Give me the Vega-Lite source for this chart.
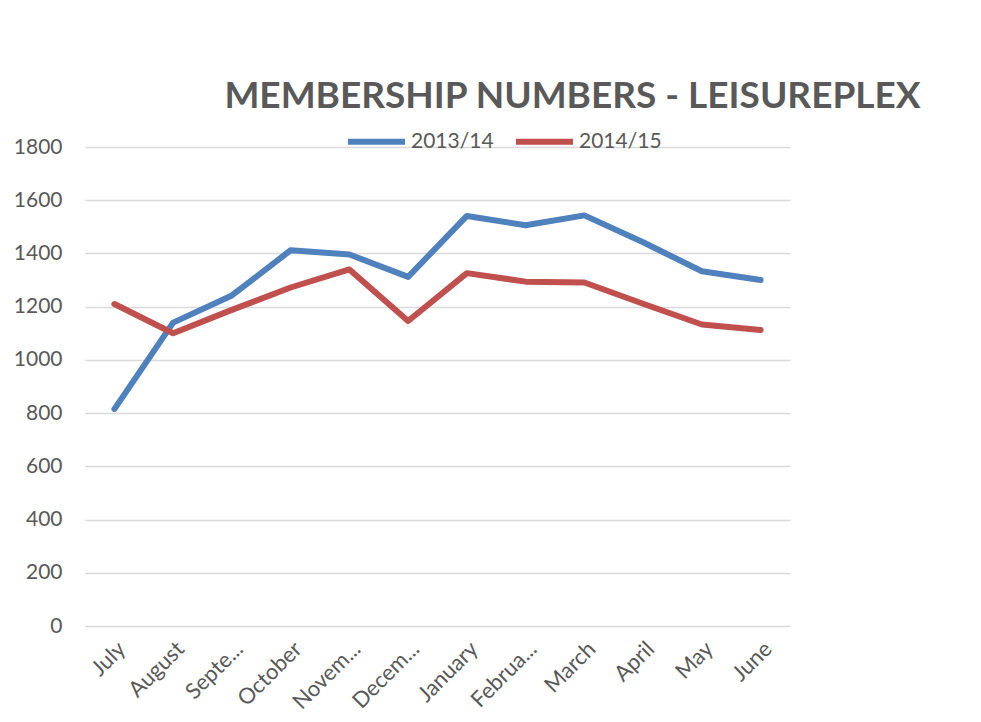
{
  "$schema": "https://vega.github.io/schema/vega-lite/v6.json",
  "autosize": {"type": "none"},
  "width": 705,
  "height": 479,
  "padding": {"left": 85, "top": 147, "right": 191, "bottom": 96},
  "background": "white",
  "title": {
    "text": "MEMBERSHIP NUMBERS - LEISUREPLEX",
    "font": "Lato",
    "fontSize": 37,
    "fontWeight": "bold",
    "color": "#595959",
    "anchor": "middle",
    "dx": 135,
    "dy": 18,
    "offset": 12
  },
  "config": {
    "view": {"stroke": null},
    "font": "Lato"
  },
  "data": {
    "values": [
      {"month": "July", "season": "2013/14", "members": 815},
      {"month": "August", "season": "2013/14", "members": 1140},
      {"month": "September", "season": "2013/14", "members": 1242},
      {"month": "October", "season": "2013/14", "members": 1412},
      {"month": "November", "season": "2013/14", "members": 1396},
      {"month": "December", "season": "2013/14", "members": 1312},
      {"month": "January", "season": "2013/14", "members": 1541},
      {"month": "February", "season": "2013/14", "members": 1506},
      {"month": "March", "season": "2013/14", "members": 1543},
      {"month": "April", "season": "2013/14", "members": 1442},
      {"month": "May", "season": "2013/14", "members": 1333},
      {"month": "June", "season": "2013/14", "members": 1300},
      {"month": "July", "season": "2014/15", "members": 1210},
      {"month": "August", "season": "2014/15", "members": 1100},
      {"month": "September", "season": "2014/15", "members": 1188},
      {"month": "October", "season": "2014/15", "members": 1272},
      {"month": "November", "season": "2014/15", "members": 1340},
      {"month": "December", "season": "2014/15", "members": 1146},
      {"month": "January", "season": "2014/15", "members": 1326},
      {"month": "February", "season": "2014/15", "members": 1294},
      {"month": "March", "season": "2014/15", "members": 1291},
      {"month": "April", "season": "2014/15", "members": 1211},
      {"month": "May", "season": "2014/15", "members": 1133},
      {"month": "June", "season": "2014/15", "members": 1112}
    ]
  },
  "mark": {"type": "line", "strokeWidth": 6, "strokeCap": "round", "strokeJoin": "round"},
  "encoding": {
    "x": {
      "field": "month",
      "type": "nominal",
      "sort": null,
      "scale": {"type": "point", "padding": 0.5},
      "axis": {
        "title": null,
        "domain": false,
        "ticks": false,
        "grid": false,
        "labelAngle": -45,
        "labelFont": "Lato",
        "labelFontSize": 22,
        "labelColor": "#595959",
        "labelPadding": 12,
        "labelExpr": "datum.label == 'September' ? 'Septe...' : datum.label == 'November' ? 'Novem...' : datum.label == 'December' ? 'Decem...' : datum.label == 'February' ? 'Februa...' : datum.label"
      }
    },
    "y": {
      "field": "members",
      "type": "quantitative",
      "scale": {"domain": [0, 1800], "nice": false, "zero": true},
      "axis": {
        "title": null,
        "format": "d",
        "values": [0, 200, 400, 600, 800, 1000, 1200, 1400, 1600, 1800],
        "domain": false,
        "ticks": false,
        "grid": true,
        "gridColor": "#D9D9D9",
        "gridWidth": 1.5,
        "labelFont": "Lato",
        "labelFontSize": 21,
        "labelColor": "#595959",
        "labelPadding": 23
      }
    },
    "color": {
      "field": "season",
      "type": "nominal",
      "scale": {"domain": ["2013/14", "2014/15"], "range": ["#4F81BD", "#C0504D"]},
      "legend": {
        "title": null,
        "orient": "none",
        "direction": "horizontal",
        "legendX": 260,
        "legendY": -37,
        "symbolType": "stroke",
        "symbolSize": 3249,
        "symbolStrokeWidth": 6,
        "labelFont": "Lato",
        "labelFontSize": 21,
        "labelColor": "#595959",
        "labelOffset": 3,
        "columnPadding": 10
      }
    }
  }
}
